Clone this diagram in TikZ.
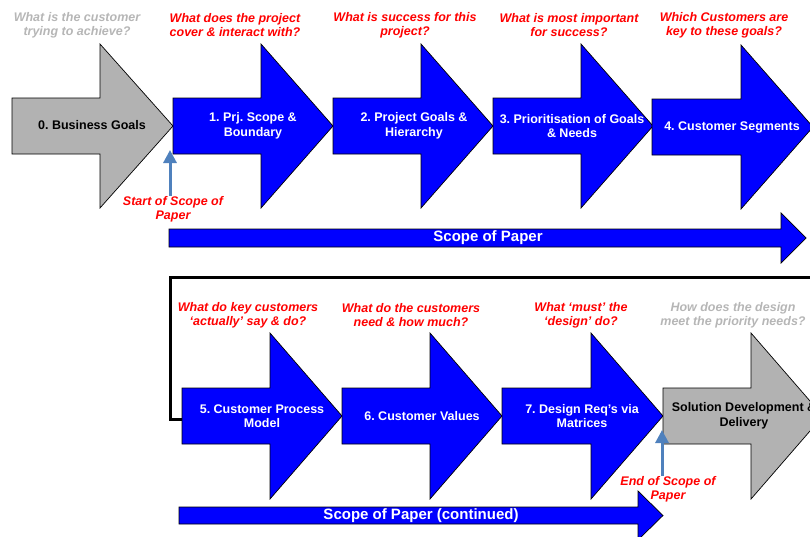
\documentclass[tikz,border=0pt]{standalone}
\usepackage{fontspec}
\setmainfont{Liberation Sans}
\usepackage{tikz}
\usetikzlibrary{arrows.meta}
\definecolor{boxgrey}{RGB}{178,178,178}
\definecolor{askgrey}{RGB}{182,182,182}
\definecolor{pointer}{RGB}{79,129,189}
\frenchspacing

\begin{document}
\begin{tikzpicture}[x=1pt, y=-1pt,
        bluebox/.style={draw=black, line width=0.7pt, fill=blue},
        greybox/.style={draw=black, line width=0.7pt, fill=boxgrey},
        boxtext/.style={font=\fontsize{12.5}{14.5}\selectfont\bfseries, align=center, inner sep=0pt},
        asktext/.style={font=\fontsize{12.5}{14}\selectfont\bfseries\itshape, align=center, inner sep=0pt, text=red},
        scopetext/.style={font=\fontsize{15}{17}\selectfont\bfseries, text=white, inner sep=0pt},
        pointer/.style={draw=pointer, line width=3pt, -{Triangle[width=13pt,length=13pt]}}]
        \useasboundingbox (0, 0) rectangle (810, 536);
        \clip (0, 0) rectangle (810, 536);
        % link from the first row down to the second
        \coordinate (rt) at (810, 277);
        \coordinate (c5) at (182, 419);
        \draw[line width=3pt] (rt) -- (170, 277) |- (c5);
        % first row
        \draw[greybox] (12, 98) -- ++(88, 0) -- ++(0, -54) -- ++(73, 82) -- ++(-73, 82) -- ++(0, -54) -- ++(-88, 0) -- cycle;
        \draw[bluebox] (173, 98) -- ++(88, 0) -- ++(0, -54) -- ++(72, 82) -- ++(-72, 82) -- ++(0, -54) -- ++(-88, 0) -- cycle;
        \draw[bluebox] (333, 98) -- ++(88, 0) -- ++(0, -54) -- ++(72, 82) -- ++(-72, 82) -- ++(0, -54) -- ++(-88, 0) -- cycle;
        \draw[bluebox] (493, 98) -- ++(88, 0) -- ++(0, -54) -- ++(72, 82) -- ++(-72, 82) -- ++(0, -54) -- ++(-88, 0) -- cycle;
        \draw[bluebox] (652, 99) -- ++(89, 0) -- ++(0, -54) -- ++(72, 82) -- ++(-72, 82) -- ++(0, -54) -- ++(-89, 0) -- cycle;
        % second row
        \draw[bluebox] (182, 388) -- ++(88, 0) -- ++(0, -55) -- ++(72, 83) -- ++(-72, 83) -- ++(0, -55) -- ++(-88, 0) -- cycle;
        \draw[bluebox] (342, 388) -- ++(88, 0) -- ++(0, -55) -- ++(72, 83) -- ++(-72, 83) -- ++(0, -55) -- ++(-88, 0) -- cycle;
        \draw[bluebox] (502, 388) -- ++(89, 0) -- ++(0, -55) -- ++(72, 83) -- ++(-72, 83) -- ++(0, -55) -- ++(-89, 0) -- cycle;
        \draw[greybox] (663, 388) -- ++(88, 0) -- ++(0, -55) -- ++(72, 83) -- ++(-72, 83) -- ++(0, -55) -- ++(-88, 0) -- cycle;
        % scope bars
        \draw[bluebox] (169, 229) -- (781, 229) -- (781, 213) -- (806, 238) -- (781, 263) -- (781, 247) -- (169, 247) -- cycle;
        \draw[bluebox] (179, 507) -- (638, 507) -- (638, 491) -- (663, 515.5) -- (638, 540) -- (638, 524) -- (179, 524) -- cycle;
        \node[scopetext] (sp) at (488, 238) {Scope of Paper};
        \node[scopetext] (spc) at (421, 516) {Scope of Paper (continued)};
        % step names
        \node[boxtext] (a0) at (92, 125) {0. Business Goals};
        \node[boxtext, text=white] (a1) at (253, 126) {1. Prj. Scope \&\\Boundary};
        \node[boxtext, text=white] (a2) at (414, 126) {2. Project Goals \&\\Hierarchy};
        \node[boxtext, text=white] (a3) at (572, 126) {3. Prioritisation of Goals\\\& Needs};
        \node[boxtext, text=white] (a4) at (732, 127) {4. Customer Segments};
        \node[boxtext, text=white] (a5) at (262, 416) {5. Customer Process\\Model};
        \node[boxtext, text=white] (a6) at (422, 416) {6. Customer Values};
        \node[boxtext, text=white] (a7) at (582, 416) {7. Design Req's via\\Matrices};
        \node[boxtext] (a8) at (744, 416) {Solution Development \&\\Delivery};
        % questions
        \node[asktext, text=askgrey] (q0) at (77, 25) {What is the customer\\trying to achieve?};
        \node[asktext] (q1) at (235, 25) {What does the project\\cover \& interact with?};
        \node[asktext] (q2) at (405, 25) {What is success for this\\project?};
        \node[asktext] (q3) at (569, 25) {What is most important\\for success?};
        \node[asktext] (q4) at (724, 25) {Which Customers are\\key to these goals?};
        \node[asktext] (q5) at (248, 315) {What do key customers\\`actually' say \& do?};
        \node[asktext] (q6) at (411, 315) {What do the customers\\need \& how much?};
        \node[asktext] (q7) at (581, 315) {What `must' the\\`design' do?};
        \node[asktext, text=askgrey] (q8) at (733, 315) {How does the design\\meet the priority needs?};
        % start and end of scope
        \node[asktext] (st) at (173, 209) {Start of Scope of\\Paper};
        \node[asktext] (en) at (668, 489) {End of Scope of\\Paper};
        \coordinate (stp) at (170, 150);
        \coordinate (enp) at (662, 430);
        \draw[pointer] (st.north -| stp) -- (stp);
        \draw[pointer] (en.north -| enp) -- (enp);
    \end{tikzpicture}
\end{document}
